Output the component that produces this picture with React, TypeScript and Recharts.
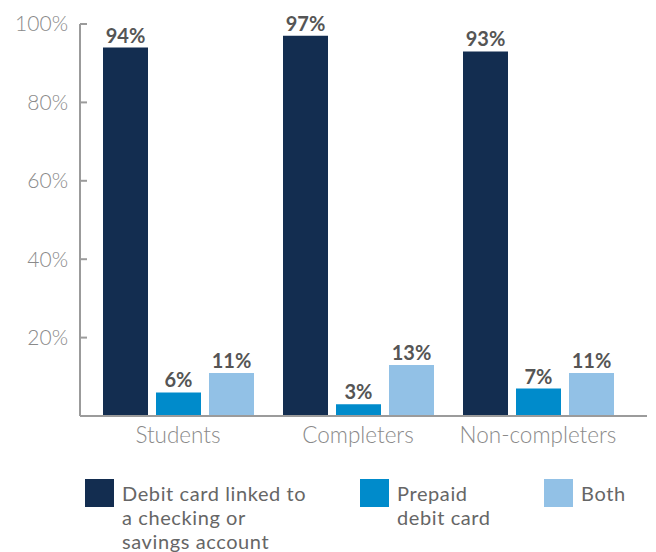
import { Bar, BarChart, LabelList, XAxis, YAxis } from "recharts";

const groups = ["Students", "Completers", "Non-completers"];
const linkedDebit = [94, 97, 93];
const prepaidDebit = [6, 3, 7];
const bothCards = [11, 13, 11];
const yTicks = [20, 40, 60, 80, 100];

const series = [
  { key: "linked", label: ["Debit card linked to", "a checking or", "savings account"], color: "#132d50", width: 275 },
  { key: "prepaid", label: ["Prepaid", "debit card"], color: "#008bcb", width: 184 },
  { key: "both", label: ["Both"], color: "#92c1e6", width: 100 },
];

const data = groups.map((name, i) => ({
  name,
  linked: linkedDebit[i],
  prepaid: prepaidDebit[i],
  both: bothCards[i],
}));

const FONT = "Lato, 'Noto Sans', sans-serif";
const AXIS = "#9b9b9b";

function YTick(props: any) {
  const { x, y, payload } = props;
  return (
    <g>
      <line x1={x + 12} x2={x + 19} y1={y} y2={y} stroke={AXIS} strokeWidth={2} />
      <text x={x} y={y} dy="0.35em" textAnchor="end" fill="#8a8a8a" fontSize={21} fontWeight={300} fontFamily={FONT}>
        {payload.value}%
      </text>
    </g>
  );
}

export default function App() {
  return (
    <div style={{ width: 648, fontFamily: FONT }}>
      <BarChart
        width={648}
        height={448}
        data={data}
        margin={{ top: 16, right: 9, left: 0, bottom: 0 }}
        barSize={45}
        barGap={8}
      >
        <XAxis
          dataKey="name"
          axisLine={{ stroke: AXIS, strokeWidth: 2 }}
          tickLine={false}
          tickSize={0}
          tickMargin={11}
          height={40}
          padding={{ left: 8, right: 19 }}
          tick={{ fill: "#8a8a8a", fontSize: 22.5, fontWeight: 300, fontFamily: FONT }}
        />
        <YAxis
          domain={[0, 100]}
          ticks={yTicks}
          width={72}
          axisLine={{ stroke: AXIS, strokeWidth: 2 }}
          tickLine={false}
          tickSize={0}
          tickMargin={12}
          tick={<YTick />}
        />
        {series.map((s) => (
          <Bar key={s.key} dataKey={s.key} fill={s.color} isAnimationActive={false}>
            <LabelList
              dataKey={s.key}
              position="top"
              offset={5}
              formatter={(v: any) => `${v}%`}
              style={{ fill: "#555", fontSize: 20, fontWeight: 700, fontFamily: FONT }}
            />
          </Bar>
        ))}
      </BarChart>
      <div style={{ display: "flex", paddingLeft: 77, marginTop: 23 }}>
        {series.map((s) => (
          <div key={s.key} style={{ display: "flex", width: s.width, alignItems: "flex-start" }}>
            <span style={{ width: 29, height: 28, background: s.color, flexShrink: 0 }} />
            <span
              style={{
                marginLeft: 8,
                fontSize: 20,
                letterSpacing: 0.6,
                lineHeight: "24px",
                color: "#666",
                marginTop: 2,
              }}
            >
              {s.label.map((l) => (
                <div key={l}>{l}</div>
              ))}
            </span>
          </div>
        ))}
      </div>
    </div>
  );
}
